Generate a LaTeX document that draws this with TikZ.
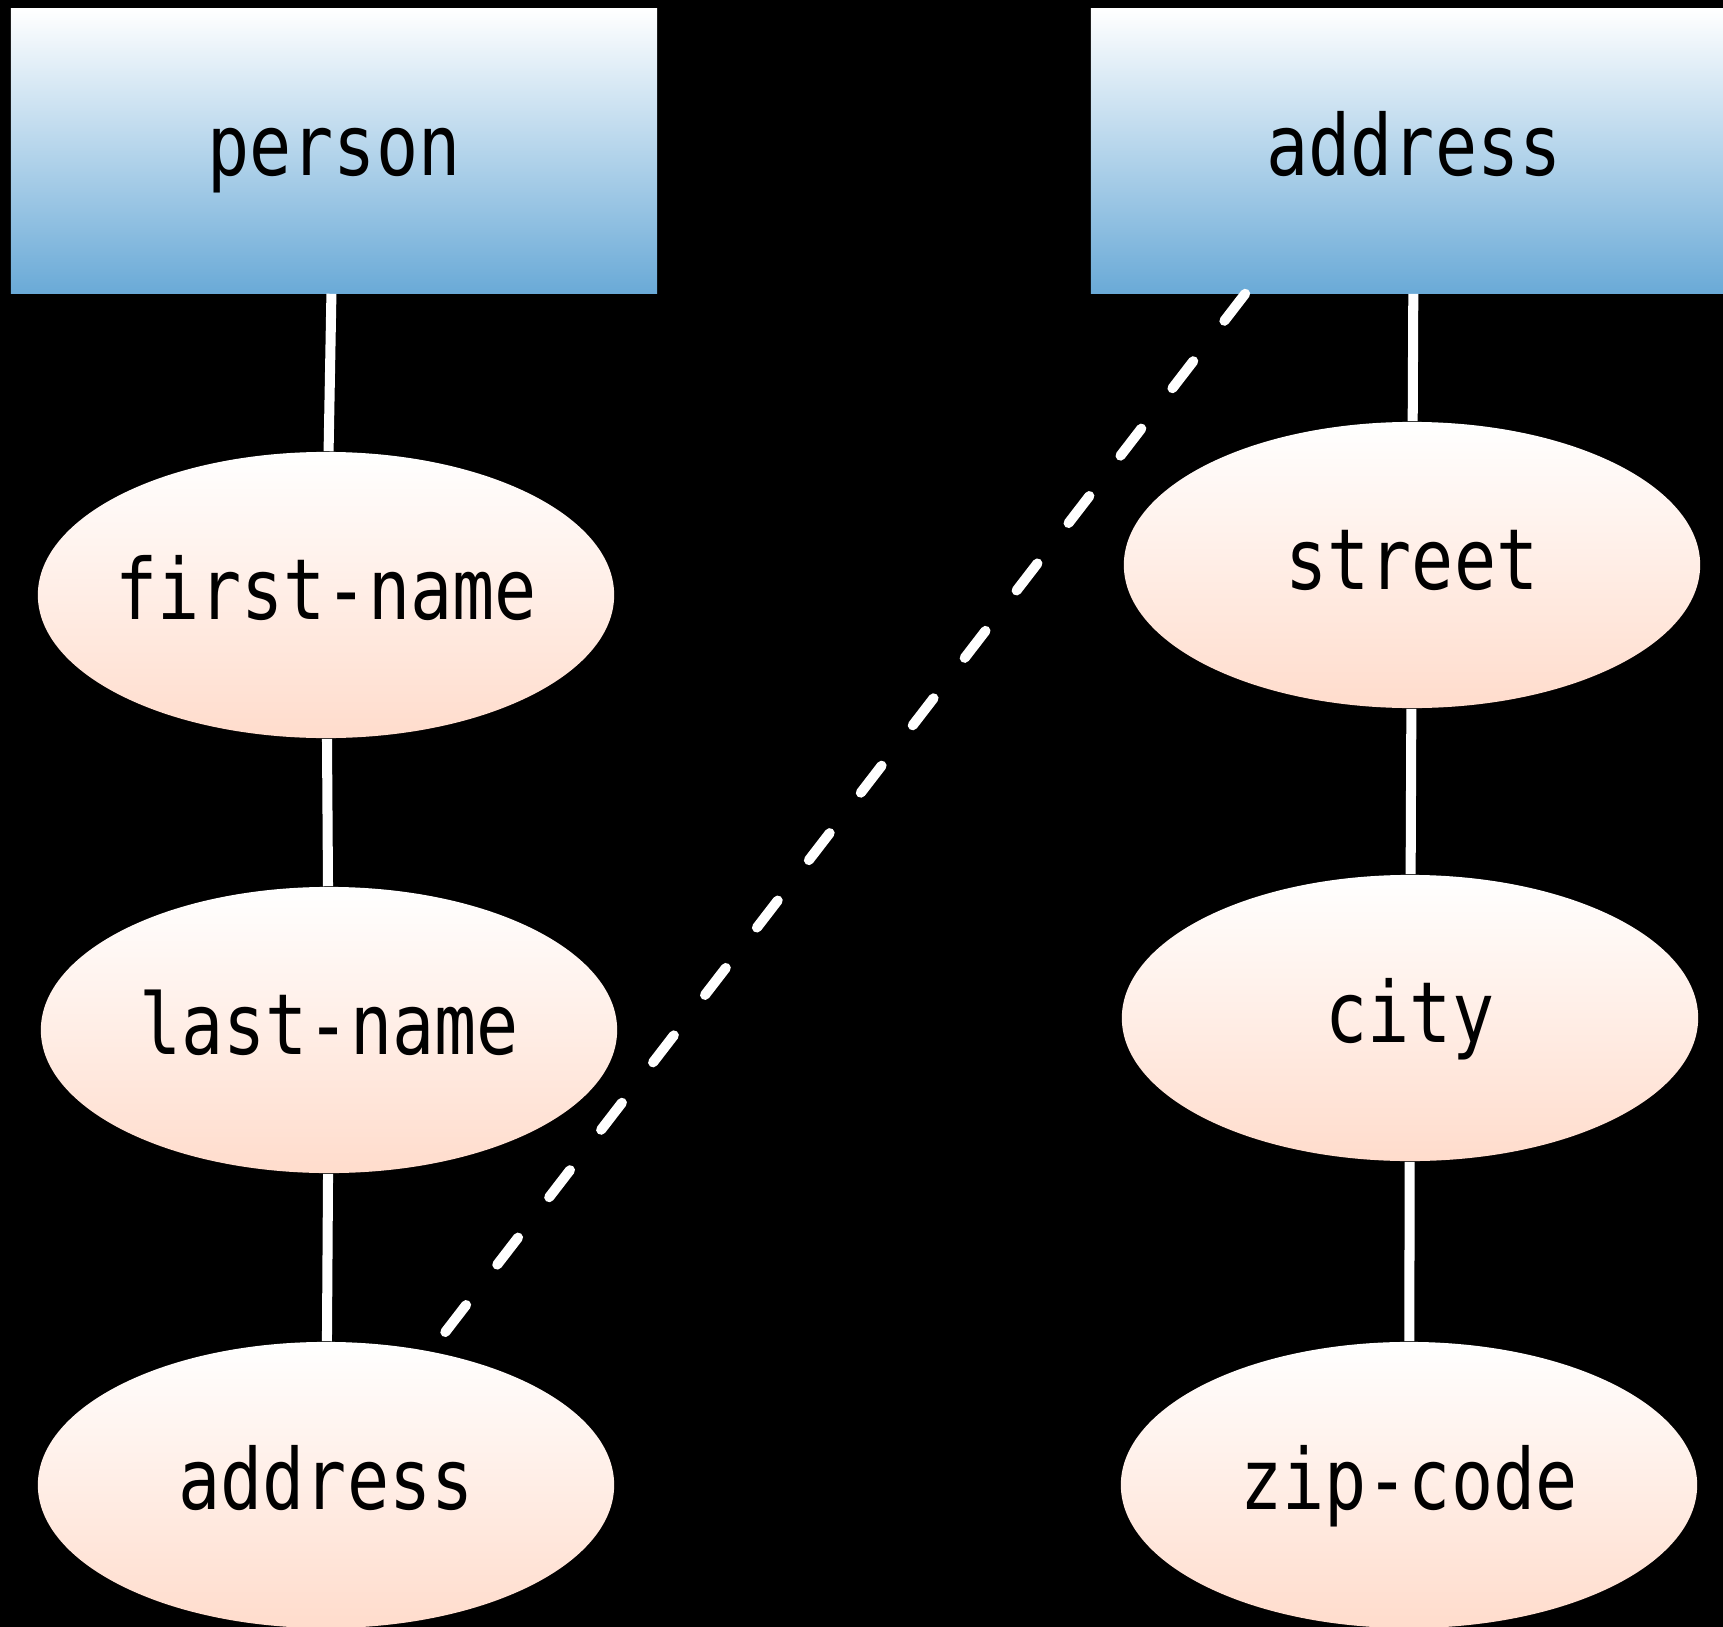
\documentclass[tikz,border=0pt]{standalone}
\usepackage{fontspec}
\usetikzlibrary{shapes.geometric,positioning}
\newfontfamily\ermono[FakeStretch=0.83]{DejaVu Sans Mono}
\definecolor{entblue}{RGB}{106,170,215}
\definecolor{attrpeach}{RGB}{255,220,204}

\begin{document}
\begin{tikzpicture}[x=0.01cm,y=-0.01cm,
  entity/.style={rectangle,inner sep=0pt,minimum width=6.46cm,minimum height=2.84cm,
    text height=20pt,text depth=6pt,
    top color=white,bottom color=entblue,font=\ermono\fontsize{24}{28}\selectfont},
  attr/.style={ellipse,inner ysep=0pt,inner xsep=-0.5cm,minimum width=5.76cm,minimum height=2.86cm,
    text height=20pt,text depth=6pt,
    top color=white,bottom color=attrpeach,font=\ermono\fontsize{24}{28}\selectfont},
  conn/.style={draw=white,line width=2.85pt},
  ref/.style={conn,line cap=round,dash pattern=on 9.7pt off 14.5pt}]
\useasboundingbox (0,0) rectangle (1723,1627);
\fill[black] (0,0) rectangle (1723,1627);

\node[entity] (person) at (334,151) {person};
\node[attr] (fname) at (326,595) {first-name};
\node[attr] (lname) at (329,1030) {last-name};
\node[attr] (paddr) at (326,1485) {address};

\node[entity] (addr) at (1414,151) {address};
\node[attr] (street) at (1412,565) {street};
\node[attr] (city) at (1410,1018) {city};
\node[attr] (zip) at (1409,1485) {zip-code};

\coordinate (refstart) at ([xshift=1.55cm]addr.south west);

\path[conn] (person) edge (fname)
            (fname) edge (lname)
            (lname) edge (paddr)
            (addr) edge (street)
            (street) edge (city)
            (city) edge (zip)
;;
\draw[ref] (refstart) -- (paddr.52.5);
\end{tikzpicture}
\end{document}
